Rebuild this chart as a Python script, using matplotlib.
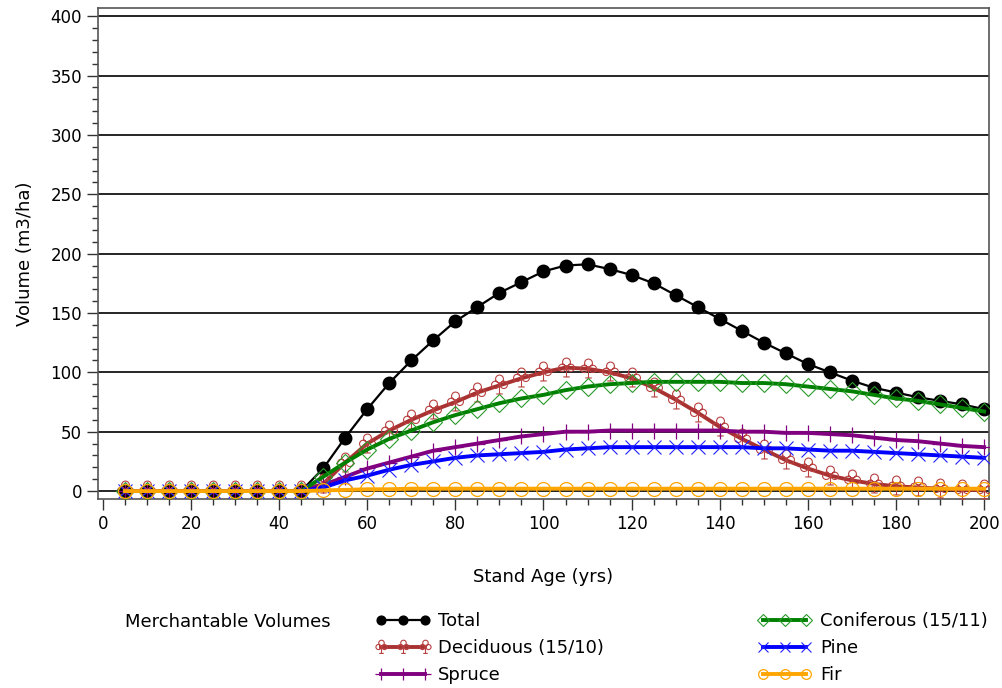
#!/usr/bin/env python3
"""Merchantable volume curves by stand age."""

import matplotlib
matplotlib.use("Agg")
import matplotlib.pyplot as plt
from matplotlib.path import Path
from matplotlib.ticker import MultipleLocator

plt.rcParams["font.family"] = ["DejaVu Sans"]

ages = list(range(5, 205, 5))

total = [0, 0, 0, 0, 0, 0, 0, 0, 0,
         19, 45, 69, 91, 110, 127, 143, 155, 167, 176, 185,
         190, 191, 187, 182, 175, 165, 155, 145, 135, 125,
         116, 107, 100, 93, 87, 83, 79, 76, 73, 69]
deciduous = [0, 0, 0, 0, 0, 0, 0, 0, 0,
             6, 24, 40, 51, 60, 68, 75, 83, 89, 95, 100,
             104, 103, 100, 95, 87, 77, 66, 54, 44, 35,
             26, 19, 13, 9, 6, 4, 3, 2, 1, 1]
coniferous = [0, 0, 0, 0, 0, 0, 0, 0, 0,
              12, 24, 35, 44, 51, 58, 64, 69, 74, 78, 81,
              85, 88, 90, 91, 92, 92, 92, 92, 91, 91,
              90, 88, 86, 84, 81, 78, 76, 73, 70, 67]
spruce = [0, 0, 0, 0, 0, 0, 0, 0, 0,
          5, 12, 19, 24, 29, 34, 37, 40, 43, 46, 48,
          50, 50, 51, 51, 51, 51, 51, 51, 50, 50,
          49, 49, 48, 47, 45, 43, 42, 40, 38, 37]
pine = [0, 0, 0, 0, 0, 0, 0, 0, 0,
        3, 9, 13, 18, 22, 25, 28, 30, 31, 32, 33,
        35, 36, 37, 37, 37, 37, 37, 37, 37, 36,
        36, 35, 34, 34, 33, 32, 31, 30, 29, 28]
fir = [0, 0, 0, 0, 0, 0, 0, 0, 0,
       0.5, 1, 1.5, 1.5, 2, 2, 2, 2, 2, 2, 2,
       2, 2, 2, 2, 2, 2, 2, 2, 2, 2,
       2, 2, 2, 2, 2, 2, 2, 2, 2, 2]

labels = ["Total", "Deciduous (15/10)", "Spruce",
          "Coniferous (15/11)", "Pine", "Fir"]

# SAS-like "club" symbol
club = Path.make_compound_path(
    Path.circle((0.0, 0.5), 0.3),
    Path.circle((-0.33, 0.05), 0.28),
    Path.circle((0.33, 0.05), 0.28),
    Path([(0.0, 0.2), (0.0, -0.65)], [Path.MOVETO, Path.LINETO]),
    Path([(-0.25, -0.65), (0.25, -0.65)], [Path.MOVETO, Path.LINETO]),
)

fig = plt.figure(figsize=(10.02, 6.88), dpi=100)
ax = fig.add_axes([0.0978, 0.2747, 0.8892, 0.7133])

series = [
    (total, dict(color="black", lw=1.6, marker="o", ms=9,
                 mfc="black", mec="black")),
    (deciduous, dict(color="#a83232", lw=2.8, marker=club, ms=15,
                     mfc="none", mec="#b84040", mew=0.8)),
    (spruce, dict(color="#800080", lw=2.8, marker="+", ms=12,
                  mec="#800080", mew=0.9)),
    (coniferous, dict(color="#008000", lw=2.8, marker="D", ms=9,
                      mfc="none", mec="#2a9a2a", mew=0.8)),
    (pine, dict(color="#0000ff", lw=2.8, marker="x", ms=10,
                mec="#2020ff", mew=0.8)),
    (fir, dict(color="#ffa500", lw=2.8, marker="o", ms=10,
               mfc="none", mec="#ffa500", mew=0.9)),
]

handles = []
for (ys, style), label in zip(series, labels):
    (h,) = ax.plot(ages, ys, label=label, zorder=3, **style)
    handles.append(h)

ax.set_xlim(-1.1, 201.1)
ax.set_ylim(-6.7, 406.7)
ax.xaxis.set_major_locator(MultipleLocator(20))
ax.xaxis.set_minor_locator(MultipleLocator(5))
ax.yaxis.set_major_locator(MultipleLocator(50))
ax.yaxis.set_minor_locator(MultipleLocator(10))
ax.tick_params(which="major", direction="out", length=8, width=1,
               labelsize=12, colors="#333333", labelcolor="black")
ax.tick_params(which="minor", direction="out", length=4, width=1,
               colors="#333333")
ax.grid(True, which="major", axis="y", color="black", lw=1.2, zorder=1)
for sp in ax.spines.values():
    sp.set_color("#555555")
    sp.set_linewidth(1.2)

ax.set_xlabel("Stand Age (yrs)", fontsize=13, labelpad=25)
ax.set_ylabel("Volume (m3/ha)", fontsize=13, labelpad=12)

fig.text(125 / 1002, 1 - 622 / 688, "Merchantable Volumes",
         fontsize=13, va="center", ha="left")
fig.legend(handles, labels, ncol=2, loc="upper left",
           bbox_to_anchor=(376 / 1002, 1 - 612 / 688),
           frameon=False, fontsize=13, handlelength=3.0,
           handletextpad=0.45, columnspacing=8.5, labelspacing=0.5,
           borderaxespad=0, borderpad=0, numpoints=3, markerscale=0.7)

fig.savefig("out.png", dpi=100)
